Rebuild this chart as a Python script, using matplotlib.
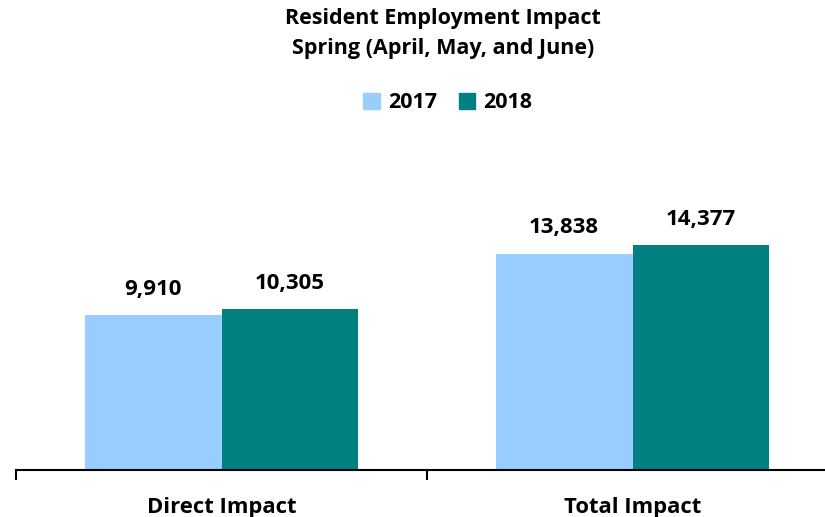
import matplotlib.pyplot as plt
from matplotlib.patches import Patch

plt.rcParams['font.family'] = ['Open Sans', 'DejaVu Sans']

categories = ['Direct Impact', 'Total Impact']
years = ['2017', '2018']
values_2017 = [9910, 13838]
values_2018 = [10305, 14377]
colors = ['#99CCFF', '#008080']

fig = plt.figure(figsize=(8.25, 5.17), dpi=100)
ax = fig.add_axes([0.0194, 0.0909, 0.9964, 0.605])

x = range(len(categories))
w = 0.333
for i, (vals, c) in enumerate([(values_2017, colors[0]), (values_2018, colors[1])]):
    offset = (i - 0.5) * w
    bars = ax.bar([xi + offset for xi in x], vals, width=w, color=c)
    for b, v in zip(bars, vals):
        ax.annotate(f'{v:,}', (b.get_x() + b.get_width() / 2, v),
                    xytext=(0, 11), textcoords='offset points',
                    ha='center', va='bottom', fontsize=16, fontweight='bold')

ax.set_xlim(-0.5, 1.5)
ax.set_ylim(0, 20000)
ax.set_yticks([])
for s in ['left', 'right', 'top']:
    ax.spines[s].set_visible(False)
ax.spines['bottom'].set_linewidth(1.5)

ax.set_xticks(list(x))
ax.set_xticklabels(categories, fontsize=15.8, fontweight='bold')
ax.tick_params(axis='x', which='major', length=0, pad=19.5)
ax.set_xticks([-0.5, 0.5, 1.5], minor=True)
ax.tick_params(axis='x', which='minor', length=7, width=1.5, direction='out')

fig.text(0.537, 0.985, 'Resident Employment Impact\nSpring (April, May, and June)',
         ha='center', va='top', fontsize=15.5, fontweight='bold', linespacing=1.6)

handles = [Patch(color=c) for c in colors]
fig.legend(handles, years, loc='center', bbox_to_anchor=(0.543, 0.801), ncol=2,
           frameon=False, handlelength=0.75, handleheight=0.75, handletextpad=0.4,
           columnspacing=1.0, prop={'weight': 'bold', 'size': 15.5})

fig.savefig('out.png', dpi=100)
